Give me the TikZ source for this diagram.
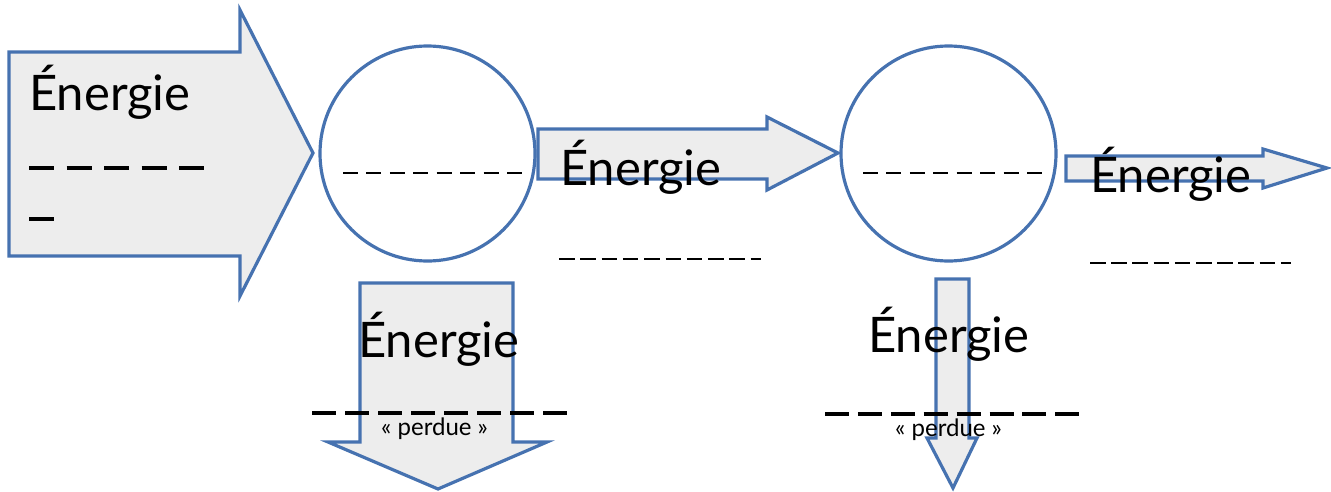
\documentclass[tikz,border=0pt]{standalone}
\usepackage{fontspec}
\setmainfont{Lato}
\definecolor{arrowblue}{RGB}{70,114,176}
\definecolor{arrowfill}{RGB}{237,237,237}
\tikzset{
  blockarrow/.style={draw=arrowblue, fill=arrowfill, line width=3.2pt, line join=miter},
  ring/.style={draw=arrowblue, line width=3.2pt, circle, minimum size=215pt, inner sep=0pt},
  bigtext/.style={anchor=base west, inner sep=0pt, font=\fontsize{49}{54}\selectfont},
  smalltext/.style={anchor=base west, inner sep=0pt, font=\fontsize{24}{28}\selectfont},
  blank/.style={line width=2.9pt, black},
  heavyblank/.style={line width=4pt, black}
}
\begin{document}
\begin{tikzpicture}[x=1pt,y=-1pt]
\useasboundingbox (0,0) rectangle (1331,491);
% big input arrow
\draw[blockarrow] (9,52) -- (240,52) -- (240,10) -- (313,153) -- (240,296) -- (240,256) -- (9,256) -- cycle;
% converters
\node[ring] (c1) at (427.5,153.5) {};
\node[ring] (c2) at (948.5,153.5) {};
% middle arrow
\draw[blockarrow] (538,129) -- (767,129) -- (767,117) -- (838,153) -- (767,190) -- (767,179) -- (538,179) -- cycle;
% right arrow
\draw[blockarrow] (1066,156) -- (1263,156) -- (1263,149) -- (1327,168) -- (1263,188) -- (1263,181) -- (1066,181) -- cycle;
% down arrows
\draw[blockarrow] (360,283) -- (513,283) -- (513,442) -- (547,442) -- (438,489) -- (328,442) -- (360,442) -- cycle;
\draw[blockarrow] (936,279) -- (969,279) -- (969,438) -- (977,438) -- (953,488) -- (927,438) -- (936,438) -- cycle;
% dashed blanks inside circles
\coordinate (d1a) at (343,173); \coordinate (d1b) at (522,173);
\coordinate (d2a) at (863,173); \coordinate (d2b) at (1042,173);
\draw[blank, dash pattern=on 15pt off 8.43pt] (d1a) -- (d1b);
\draw[blank, dash pattern=on 15pt off 8.43pt] (d2a) -- (d2b);
% texts
\node[bigtext] (t0) at (29,110) {Énergie};
\node[bigtext] (t1) at (560,185) {Énergie};
\node[bigtext] (t2) at (1090,192) {Énergie};
\node[bigtext] (t3) at (358,357) {Énergie};
\node[bigtext] (t4) at (868,352) {Énergie};
\node[smalltext] (p1) at (381,435) {« perdue »};
\node[smalltext] (p2) at (895,436) {« perdue »};
% blanks
\coordinate (b0a) at (29,168); \coordinate (b0b) at (204,168);
\coordinate (b0c) at (29,219); \coordinate (b0d) at (54,219);
\draw[heavyblank, dash pattern=on 25pt off 12.5pt] (b0a) -- (b0b);
\draw[heavyblank] (b0c) -- (b0d);
\coordinate (b1a) at (559,259); \coordinate (b1b) at (761,259);
\draw[blank, dash pattern=on 15.5pt off 5.8pt] (b1a) -- (b1b);
\coordinate (b2a) at (1090,263); \coordinate (b2b) at (1291,263);
\draw[blank, dash pattern=on 15.5pt off 5.7pt] (b2a) -- (b2b);
\coordinate (b3a) at (312,413); \coordinate (b3b) at (567,413);
\draw[heavyblank, dash pattern=on 24pt off 9pt] (b3a) -- (b3b);
\coordinate (b4a) at (825,414); \coordinate (b4b) at (1079,414);
\draw[heavyblank, dash pattern=on 24pt off 8.9pt] (b4a) -- (b4b);
\end{tikzpicture}
\end{document}
